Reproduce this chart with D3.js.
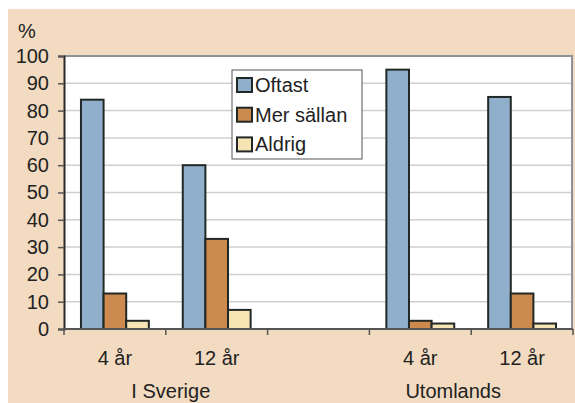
<!DOCTYPE html>
<html>
<head>
<meta charset="utf-8">
<script src="https://cdn.jsdelivr.net/npm/d3@7"></script>
<style>
  html, body { margin: 0; padding: 0; background: #ffffff; }
  svg { display: block; font-family: "Liberation Sans", Arial, sans-serif; }
</style>
</head>
<body>
<svg id="chart" width="575" height="403"></svg>
<script>
// Categories along the x axis (the empty one separates the two groups)
const categories = ["4 år", "12 år", "", "4 år ", "12 år "];
const groupLabels = ["I Sverige", "Utomlands"];
const seriesNames = ["Oftast", "Mer sällan", "Aldrig"];
const oftast    = [84, 60, null, 95, 85];
const merSallan = [13, 33, null, 3, 13];
const aldrig    = [3, 7, null, 2, 2];
const yTicks = [0, 10, 20, 30, 40, 50, 60, 70, 80, 90, 100];

const colors = ["#8fafcb", "#cd8a4e", "#f6e4b4"];
const seriesValues = [oftast, merSallan, aldrig];
const FS = 20;

const svg = d3.select("#chart");
const W = 575, H = 403;
const plot = { left: 64, right: 572, top: 56, bottom: 329 };

// Panel background
svg.append("rect").attr("x", 8).attr("y", 9).attr("width", W - 8).attr("height", H - 9)
  .attr("fill", "#f3dbc1");

// Plot area
svg.append("rect")
  .attr("x", plot.left).attr("y", plot.top)
  .attr("width", plot.right - plot.left).attr("height", plot.bottom - plot.top)
  .attr("fill", "#ffffff");

const x = d3.scaleBand().domain(categories).range([plot.left, plot.right + 1]).paddingInner(0).paddingOuter(0);
const xs = d3.scaleBand().domain(seriesNames).range([0, x.bandwidth()]).paddingInner(0).paddingOuter(0.75);
const y = d3.scaleLinear().domain([0, 100]).range([plot.bottom, plot.top]);

// Gridlines
svg.append("g").selectAll("line").data(yTicks.filter(t => t > 0 && t < 100)).join("line")
  .attr("x1", plot.left).attr("x2", plot.right)
  .attr("y1", d => y(d)).attr("y2", d => y(d))
  .attr("stroke", "#cfcfcf").attr("stroke-width", 1.5);

// Plot frame on top and right
svg.append("path")
  .attr("d", `M${plot.left},${plot.top}H${plot.right}V${plot.bottom}`)
  .attr("fill", "none").attr("stroke", "#8c9296").attr("stroke-width", 2);

// Bars
const rows = categories.map((c, i) => ({ c, i })).filter(r => oftast[r.i] !== null);
const gCat = svg.append("g").selectAll("g").data(rows).join("g")
  .attr("transform", d => `translate(${x(d.c)},0)`);
gCat.selectAll("rect")
  .data(d => seriesNames.map((s, k) => ({ s, k, v: seriesValues[k][d.i] })))
  .join("rect")
  .attr("x", d => xs(d.s))
  .attr("width", xs.bandwidth())
  .attr("y", d => y(d.v))
  .attr("height", d => y(0) - y(d.v))
  .attr("fill", d => colors[d.k])
  .attr("stroke", "#222826").attr("stroke-width", 2);

// Y axis
const yAxis = svg.append("g").attr("transform", `translate(${plot.left},0)`)
  .call(d3.axisLeft(y).tickValues(yTicks).tickSize(6).tickPadding(9));
yAxis.select(".domain").attr("stroke", "#2a2a2a").attr("stroke-width", 2);
yAxis.selectAll(".tick line").attr("stroke", "#555").attr("stroke-width", 1.5);
yAxis.selectAll("text").attr("font-size", FS).attr("fill", "#222");

// X axis line and boundary ticks
svg.append("line").attr("x1", plot.left).attr("x2", plot.right + 1)
  .attr("y1", plot.bottom).attr("y2", plot.bottom)
  .attr("stroke", "#555").attr("stroke-width", 2);
const bounds = categories.map(c => x(c)).concat([x(categories[categories.length - 1]) + x.bandwidth()]);
svg.append("g").selectAll("line").data(bounds).join("line")
  .attr("x1", d => d).attr("x2", d => d)
  .attr("y1", plot.bottom).attr("y2", plot.bottom + 6)
  .attr("stroke", "#555").attr("stroke-width", 1.5);

// Category labels
svg.append("g").selectAll("text").data(categories).join("text")
  .attr("x", d => x(d) + x.bandwidth() / 2)
  .attr("y", 365)
  .attr("text-anchor", "middle")
  .attr("font-size", FS).attr("fill", "#222")
  .text(d => d.trim());

// Group labels, each centred near its pair of categories
const groupX = [
  (x(categories[0]) + x(categories[1]) + x.bandwidth()) / 2 + 5,
  (x(categories[3]) + x(categories[4]) + x.bandwidth()) / 2 - 18
];
svg.append("g").selectAll("text").data(groupLabels).join("text")
  .attr("x", (d, i) => groupX[i])
  .attr("y", 398)
  .attr("text-anchor", "middle")
  .attr("font-size", FS).attr("fill", "#222")
  .text(d => d);

// Unit label
svg.append("text").attr("x", 18).attr("y", 38)
  .attr("font-size", FS).attr("fill", "#222").text("%");

// Legend
const lg = svg.append("g").attr("transform", "translate(232,70)");
lg.append("rect").attr("width", 130).attr("height", 89)
  .attr("fill", "#ffffff").attr("stroke", "#555").attr("stroke-width", 1);
seriesNames.forEach((s, k) => {
  const cy = 15 + k * 29.7;
  lg.append("rect").attr("x", 5).attr("y", cy - 7).attr("width", 15).attr("height", 14)
    .attr("fill", colors[k]).attr("stroke", "#222826").attr("stroke-width", 2);
  lg.append("text").attr("x", 23).attr("y", cy + 7)
    .attr("font-size", FS).attr("fill", "#222").text(s);
});
</script>
</body>
</html>
